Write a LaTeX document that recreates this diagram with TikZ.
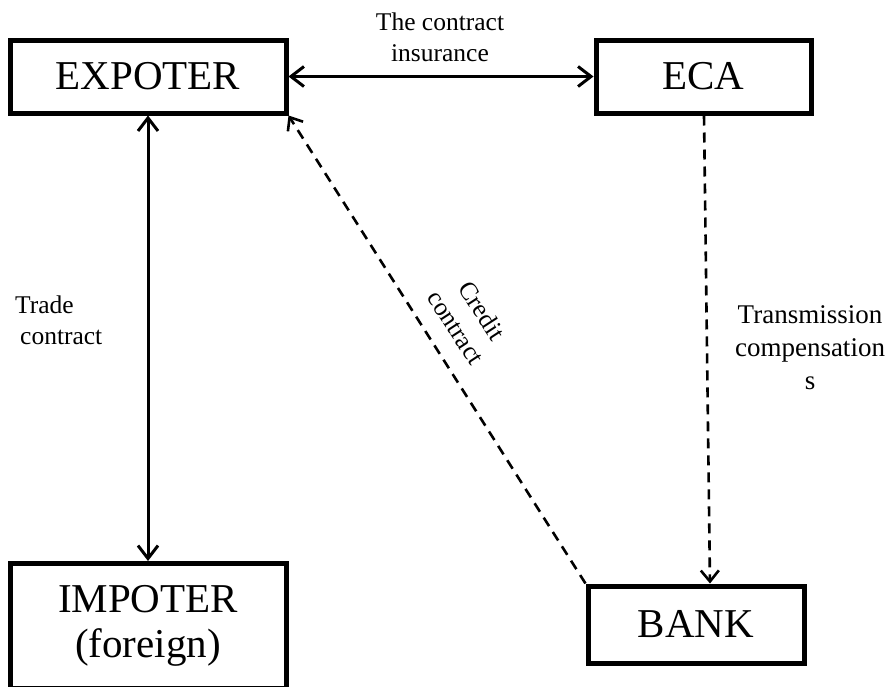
\documentclass[tikz,border=0pt]{standalone}
\usepackage{fontspec}
\setmainfont{Liberation Serif}
\usetikzlibrary{arrows.meta}
\begin{document}
\begin{tikzpicture}[x=1pt,y=-1pt,
  party/.style={draw, line width=5pt, fill=white, inner sep=0pt, align=center,
    font=\fontsize{41}{45}\selectfont},
  link/.style={line width=3pt, {Straight Barb[length=13pt,width=20pt]}-{Straight Barb[length=13pt,width=20pt]}},
  dlink/.style={line width=2.6pt, dash pattern=on 10pt off 7pt,
    -{Straight Barb[length=11pt,width=18pt,line width=2.6pt]}},
  lbl/.style={font=\fontsize{25.5}{31}\selectfont, align=center, inner sep=0pt}]
  \useasboundingbox (0,0) rectangle (889,686);

  % the four parties
  \node[party, minimum width=276pt, minimum height=73pt] (exp) at (148,76.5) {EXPOTER};
  \node[party, minimum width=215pt, minimum height=73pt] (eca) at (703.5,76.5) {ECA};
  \node[party, minimum width=276pt, minimum height=125pt] (imp) at (148,626) {IMPOTER\\(foreign)};
  \node[party, minimum width=216pt, minimum height=77pt] (bank) at (696,624.5) {BANK};

  % contracts between them
  \draw[link] (exp.east) -- (eca.west);
  \draw[link] (exp.south) -- (imp.north);
  \draw[dlink] (bank.north west) -- (exp.south east);
  \draw[dlink] ([xshift=0.5pt]eca.south) -- ([xshift=14pt]bank.north);

  % labels
  \node[lbl] (lins) at (440,37) {The contract\\insurance};
  \node[lbl, align=left, anchor=west] (ltrade) at (15,320) {Trade\\\hspace{5pt}contract};
  \node[lbl, rotate=-57] (lcredit) at (469,319) {Credit\\contract};
  \node[lbl, font=\fontsize{27}{33}\selectfont] (ltrans) at (810,348) {Transmission\\compensation\\s};
\end{tikzpicture}
\end{document}
